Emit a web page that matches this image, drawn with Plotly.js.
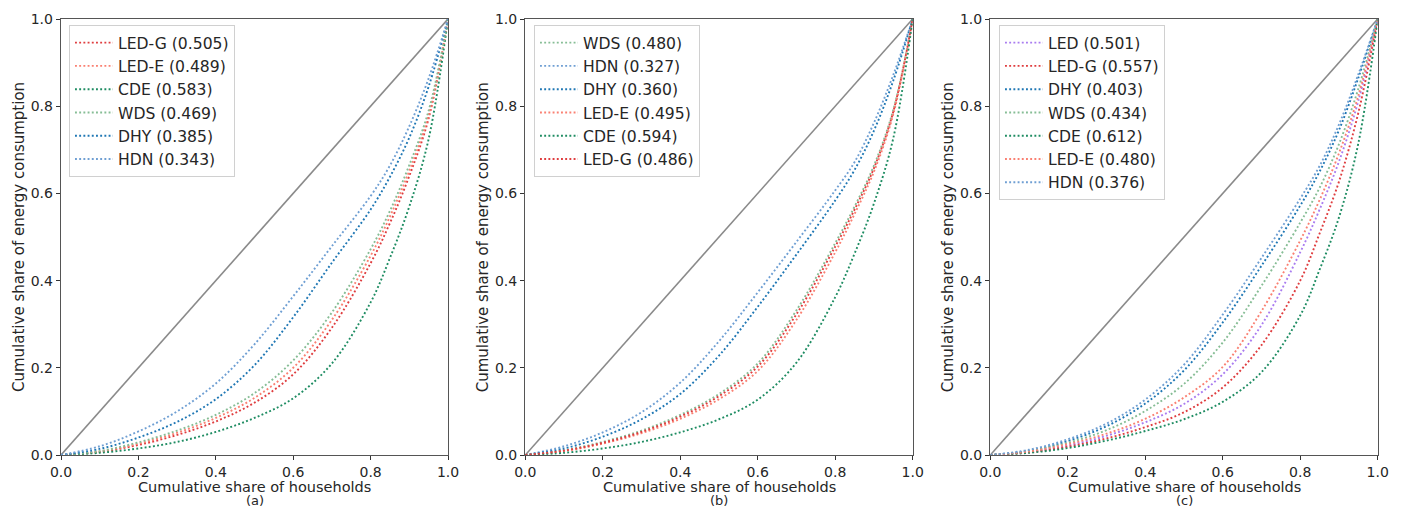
<!DOCTYPE html>
<html>
<head>
<meta charset="utf-8">
<script src="https://cdn.plot.ly/plotly-3.0.1.min.js"></script>
<style>
  html, body { margin: 0; padding: 0; background: #ffffff; }
  #chart { width: 1402px; height: 509px; }
</style>
</head>
<body>
<div id="chart"></div>
<script>
// Cumulative share of households (x grid)
const shareHouseholds = [0, 0.1, 0.2, 0.3, 0.4, 0.5, 0.6, 0.7, 0.8, 0.85, 0.9, 0.95, 1.0];
const equalityLine = [0, 1];

// Panel (a)
const a_LEDG = [0, 0.007, 0.023, 0.046, 0.077, 0.12, 0.185, 0.292, 0.44, 0.532, 0.64, 0.772, 1];
const a_LEDE = [0, 0.008, 0.026, 0.051, 0.085, 0.131, 0.2, 0.31, 0.457, 0.547, 0.652, 0.78, 1];
const a_CDE  = [0, 0.005, 0.015, 0.03, 0.053, 0.085, 0.13, 0.21, 0.35, 0.452, 0.57, 0.725, 1];
const a_WDS  = [0, 0.009, 0.029, 0.056, 0.092, 0.142, 0.217, 0.327, 0.472, 0.56, 0.665, 0.79, 1];
const a_DHY  = [0, 0.014, 0.04, 0.076, 0.128, 0.206, 0.316, 0.441, 0.563, 0.638, 0.728, 0.845, 1];
const a_HDN  = [0, 0.02, 0.054, 0.1, 0.164, 0.254, 0.364, 0.479, 0.594, 0.664, 0.754, 0.864, 1];
const a_labels = ['LED-G (0.505)', 'LED-E (0.489)', 'CDE (0.583)', 'WDS (0.469)', 'DHY (0.385)', 'HDN (0.343)'];

// Panel (b)
const b_WDS  = [0, 0.011, 0.03, 0.056, 0.092, 0.14, 0.21, 0.332, 0.486, 0.57, 0.664, 0.792, 1];
const b_HDN  = [0, 0.02, 0.052, 0.098, 0.166, 0.261, 0.373, 0.489, 0.607, 0.672, 0.762, 0.872, 1];
const b_DHY  = [0, 0.015, 0.042, 0.082, 0.14, 0.228, 0.34, 0.46, 0.584, 0.654, 0.744, 0.859, 1];
const b_LEDE = [0, 0.009, 0.026, 0.05, 0.083, 0.128, 0.193, 0.31, 0.465, 0.553, 0.65, 0.782, 1];
const b_CDE  = [0, 0.005, 0.015, 0.03, 0.052, 0.082, 0.127, 0.212, 0.362, 0.462, 0.577, 0.727, 1];
const b_LEDG = [0, 0.01, 0.028, 0.053, 0.088, 0.135, 0.203, 0.323, 0.478, 0.563, 0.658, 0.788, 1];
const b_labels = ['WDS (0.480)', 'HDN (0.327)', 'DHY (0.360)', 'LED-E (0.495)', 'CDE (0.594)', 'LED-G (0.486)'];

// Panel (c)
const c_LED  = [0, 0.007, 0.022, 0.044, 0.075, 0.117, 0.185, 0.298, 0.465, 0.563, 0.673, 0.812, 1];
const c_LEDG = [0, 0.006, 0.019, 0.038, 0.064, 0.098, 0.155, 0.252, 0.4, 0.508, 0.627, 0.785, 1];
const c_DHY  = [0, 0.01, 0.032, 0.066, 0.118, 0.194, 0.304, 0.434, 0.572, 0.65, 0.745, 0.865, 1];
const c_WDS  = [0, 0.009, 0.028, 0.057, 0.101, 0.163, 0.258, 0.388, 0.533, 0.613, 0.713, 0.84, 1];
const c_CDE  = [0, 0.005, 0.016, 0.033, 0.055, 0.082, 0.122, 0.19, 0.32, 0.425, 0.545, 0.715, 1];
const c_LEDE = [0, 0.008, 0.025, 0.049, 0.083, 0.132, 0.202, 0.33, 0.492, 0.585, 0.692, 0.824, 1];
const c_HDN  = [0, 0.012, 0.036, 0.072, 0.127, 0.207, 0.322, 0.452, 0.588, 0.663, 0.758, 0.873, 1];
const c_labels = ['LED (0.501)', 'LED-G (0.557)', 'DHY (0.403)', 'WDS (0.434)', 'CDE (0.612)', 'LED-E (0.480)', 'HDN (0.376)'];

const xTickVals = [0, 0.2, 0.4, 0.6, 0.8, 1.0];
const xTickText = ['0.0', '0.2', '0.4', '0.6', '0.8', '1.0'];
const xTitle = 'Cumulative share of households';
const yTitle = 'Cumulative share of energy consumption';
const panelTags = ['(a)', '(b)', '(c)'];

const COLORS = {
  'LED-G': '#df3d3f',
  'LED-E': '#fa8072',
  'CDE':   '#1e8c62',
  'WDS':   '#86bd95',
  'DHY':   '#1f77b4',
  'HDN':   '#6f9fd3',
  'LED':   '#a97cf0'
};

const FONT = 'DejaVu Sans, Liberation Sans, sans-serif';

function curve(label, ys, axisIdx, legendName) {
  const key = label.split(' ')[0];
  const s = axisIdx === 1 ? '' : String(axisIdx);
  return {
    type: 'scatter', mode: 'lines',
    x: shareHouseholds, y: ys, name: label,
    xaxis: 'x' + s, yaxis: 'y' + s,
    legend: legendName,
    line: { color: COLORS[key], width: 1.9, dash: '1.9px,2.3px', shape: 'spline', smoothing: 1 },
    hoverinfo: 'skip'
  };
}
function diag(axisIdx) {
  const s = axisIdx === 1 ? '' : String(axisIdx);
  return {
    type: 'scatter', mode: 'lines', x: equalityLine, y: equalityLine,
    xaxis: 'x' + s, yaxis: 'y' + s, showlegend: false,
    line: { color: '#8a8a8a', width: 1.6 }, hoverinfo: 'skip'
  };
}

const data = [];
data.push(diag(1));
[a_LEDG, a_LEDE, a_CDE, a_WDS, a_DHY, a_HDN].forEach((ys, i) => data.push(curve(a_labels[i], ys, 1, 'legend')));
data.push(diag(2));
[b_WDS, b_HDN, b_DHY, b_LEDE, b_CDE, b_LEDG].forEach((ys, i) => data.push(curve(b_labels[i], ys, 2, 'legend2')));
data.push(diag(3));
[c_LED, c_LEDG, c_DHY, c_WDS, c_CDE, c_LEDE, c_HDN].forEach((ys, i) => data.push(curve(c_labels[i], ys, 3, 'legend3')));

const W = 1402, H = 509;
const panelsPx = [[61, 448], [525.3, 912.7], [990.3, 1377.7]];
const yTopPx = 19, yBotPx = 455;
const yDomain = [1 - yBotPx / H, 1 - yTopPx / H];

function axisBase() {
  return {
    range: [0, 1], tickvals: xTickVals, ticktext: xTickText,
    ticks: 'outside', ticklen: 4, tickwidth: 1, tickcolor: '#333',
    showgrid: false, zeroline: false, showline: true, mirror: true,
    linecolor: '#555', linewidth: 1.3,
    tickfont: { family: FONT, size: 14, color: '#262626' }
  };
}
function xAxis(px, anchor) {
  return Object.assign(axisBase(), { domain: [px[0] / W, px[1] / W], anchor: anchor });
}
function yAxis(anchor) {
  return Object.assign(axisBase(), { domain: yDomain, anchor: anchor });
}
function legendAt(pxLeft) {
  return {
    x: pxLeft / W, y: 1 - 25 / H, xanchor: 'left', yanchor: 'top',
    bgcolor: 'rgba(255,255,255,0.85)', bordercolor: '#d0d0d0', borderwidth: 1,
    font: { family: FONT, size: 15.6, color: '#262626' },
    itemwidth: 38, tracegroupgap: 0
  };
}

const annotations = [];
panelsPx.forEach((px, i) => {
  const cx = (px[0] + px[1]) / 2 / W;
  annotations.push({ xref: 'paper', yref: 'paper', x: cx, y: 1 - 487 / H, text: xTitle,
    showarrow: false, xanchor: 'center', yanchor: 'middle', borderpad: 0,
    font: { family: FONT, size: 14.5, color: '#262626' } });
  annotations.push({ xref: 'paper', yref: 'paper', x: cx, y: 0, text: panelTags[i],
    showarrow: false, xanchor: 'center', yanchor: 'bottom', borderpad: 0,
    font: { family: FONT, size: 13, color: '#262626' } });
  annotations.push({ xref: 'paper', yref: 'paper', x: (px[0] - 42) / W, y: (yDomain[0] + yDomain[1]) / 2,
    text: yTitle, textangle: -90, showarrow: false, xanchor: 'center', yanchor: 'middle',
    font: { family: FONT, size: 15, color: '#262626' } });
});

const layout = {
  width: W, height: H, margin: { l: 0, r: 0, t: 0, b: 0 },
  paper_bgcolor: '#ffffff', plot_bgcolor: '#ffffff',
  showlegend: true,
  xaxis: xAxis(panelsPx[0], 'y'), yaxis: yAxis('x'),
  xaxis2: xAxis(panelsPx[1], 'y2'), yaxis2: yAxis('x2'),
  xaxis3: xAxis(panelsPx[2], 'y3'), yaxis3: yAxis('x3'),
  legend: legendAt(69), legend2: legendAt(534), legend3: legendAt(999),
  annotations: annotations
};

Plotly.newPlot('chart', data, layout, { displayModeBar: false, staticPlot: true });
</script>
</body>
</html>
